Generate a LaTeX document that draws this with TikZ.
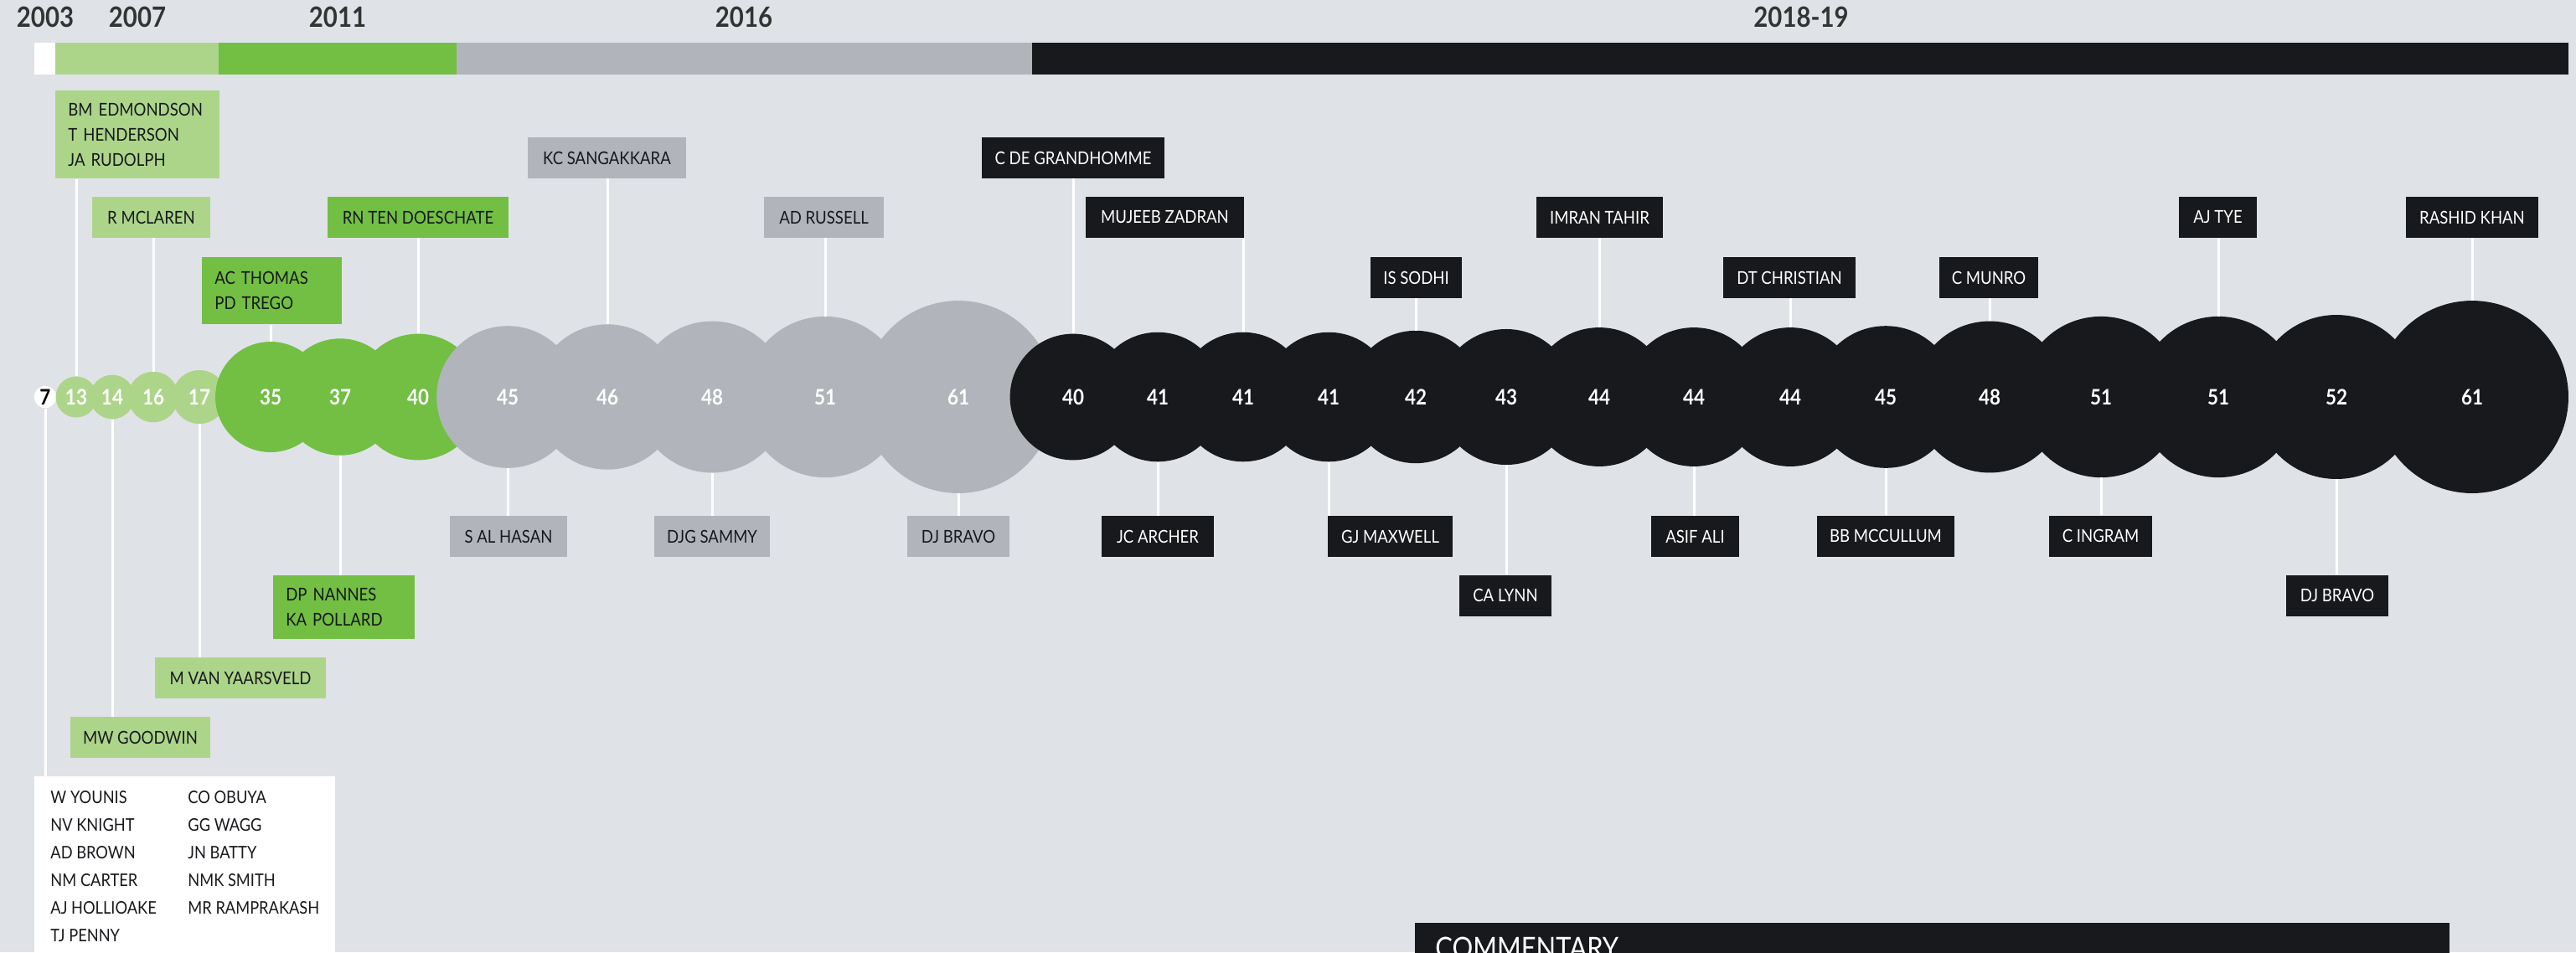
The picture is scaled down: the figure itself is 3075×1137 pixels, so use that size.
\documentclass[tikz,border=0pt]{standalone}
\usepackage{fontspec}
\setmainfont{Lato}[FakeStretch=0.88]
\definecolor{pagebg}{HTML}{DFE3E7}
\definecolor{lgreen}{HTML}{ACD58A}
\definecolor{dgreen}{HTML}{72BF44}
\definecolor{stone}{HTML}{B1B5BB}
\definecolor{ink}{HTML}{18191C}
\definecolor{yeartxt}{HTML}{333333}
\newcommand{\lblfont}{\fontsize{12}{17}\selectfont}
\newcommand{\listfont}{\fontsize{11.8}{18.8}\selectfont}

\begin{document}
\begin{tikzpicture}[x=0.02cm, y=-0.02cm,
  bubble/.style={circle, inner sep=0pt, font=\bfseries\fontsize{14.5}{16}\selectfont},
  lbl/.style={fill=#1, inner sep=0pt, minimum height=0.98cm, font=\lblfont, text=ink},
  dlbl/.style={lbl=ink, text=white},
  multi/.style={anchor=north west, inner xsep=0.3cm, inner ysep=0pt, align=left},
  conn/.style={draw=white, line width=0.06cm},
  year/.style={font=\bfseries\fontsize{19}{22}\selectfont, text=yeartxt}]
\useasboundingbox (0,0) rectangle (3075,1137);
\clip (0,0) rectangle (3075,1137);
\fill[pagebg] (0,0) rectangle (3075,1137);

% years and season bar
\node[year] (y2003) at (54,20) {2003};
\node[year] (y2007) at (164,20) {2007};
\node[year] (y2011) at (403,20) {2011};
\node[year] (y2016) at (888,20) {2016};
\node[year] (y2018) at (2150,20) {2018-19};
\fill[white] (41,51) rectangle (66,89);
\fill[lgreen] (66,51) rectangle (261,89);
\fill[dgreen] (261,51) rectangle (545,89);
\fill[stone] (545,51) rectangle (1232,89);
\fill[ink] (1232,51) rectangle (3066,89);

% bubbles, radius grows with the value
\foreach \v/\x/\c/\t [count=\i] in {7/54/white/black, 13/91/lgreen/white, 14/134/lgreen/white,
  16/183/lgreen/white, 17/238/lgreen/white, 35/323/dgreen/white, 37/406/dgreen/white,
  40/499/dgreen/white, 45/606/stone/white, 46/725/stone/white, 48/850/stone/white,
  51/985/stone/white, 61/1144/stone/white, 40/1281/ink/white, 41/1382/ink/white,
  41/1484/ink/white, 41/1586/ink/white, 42/1690/ink/white, 43/1798/ink/white,
  44/1909/ink/white, 44/2022/ink/white, 44/2137/ink/white, 45/2251/ink/white,
  48/2375/ink/white, 51/2508/ink/white, 51/2648/ink/white, 52/2789/ink/white,
  61/2951/ink/white}
  \node[bubble, fill=\c, text=\t, minimum size=\v*0.0754cm] (b\i) at (\x,474) {\v};

% labels above
\node[lbl=lgreen, multi, minimum width=3.92cm, minimum height=2.1cm, text width=3.32cm] (edmondson) at (66,108) {BM EDMONDSON\\T HENDERSON\\JA RUDOLPH};
\node[lbl=lgreen, minimum width=2.82cm] (mclaren) at (180.5,259.5) {R MCLAREN};
\node[lbl=dgreen, multi, minimum width=3.34cm, minimum height=1.6cm, text width=2.74cm] (thomas) at (241,307) {AC THOMAS\\PD TREGO};
\node[lbl=dgreen, minimum width=4.32cm] (doeschate) at (499,259.5) {RN TEN DOESCHATE};
\node[lbl=stone, minimum width=3.78cm] (sangakkara) at (724.5,188.5) {KC SANGAKKARA};
\node[lbl=stone, minimum width=2.86cm] (russell) at (983.5,259.5) {AD RUSSELL};
\node[dlbl, minimum width=4.36cm] (grandhomme) at (1281,188.5) {C DE GRANDHOMME};
\node[dlbl, minimum width=3.78cm] (zadran) at (1390.5,259.5) {MUJEEB ZADRAN};
\node[dlbl, minimum width=2.18cm] (sodhi) at (1690.5,331.5) {IS SODHI};
\node[dlbl, minimum width=3.02cm] (tahir) at (1909.5,259.5) {IMRAN TAHIR};
\node[dlbl, minimum width=3.16cm] (christian) at (2136,331.5) {DT CHRISTIAN};
\node[dlbl, minimum width=2.36cm] (munro) at (2374,331.5) {C MUNRO};
\node[dlbl, minimum width=1.86cm] (tye) at (2647.5,259.5) {AJ TYE};
\node[dlbl, minimum width=3.16cm] (rashid) at (2951,259.5) {RASHID KHAN};

% labels below
\node[fill=white, anchor=north west, inner xsep=0.32cm, inner ysep=0.18cm, minimum width=7.18cm, font=\listfont, text=ink] (others) at (41,927)
  {\begin{tabular}{@{}p{3.28cm}@{}l@{}}
   W YOUNIS & CO OBUYA\\
   NV KNIGHT & GG WAGG\\
   AD BROWN & JN BATTY\\
   NM CARTER & NMK SMITH\\
   AJ HOLLIOAKE & MR RAMPRAKASH\\
   TJ PENNY & \\
   \end{tabular}};
\node[lbl=lgreen, minimum width=3.34cm] (goodwin) at (167.5,880.5) {MW GOODWIN};
\node[lbl=lgreen, minimum width=4.08cm] (yaarsveld) at (287,809.5) {M VAN YAARSVELD};
\node[lbl=dgreen, multi, minimum width=3.38cm, minimum height=1.52cm, text width=2.78cm] (nannes) at (326,687) {DP NANNES\\KA POLLARD};
\node[lbl=stone, minimum width=2.8cm] (alhasan) at (607,640.5) {S AL HASAN};
\node[lbl=stone, minimum width=2.76cm] (sammy) at (850,640.5) {DJG SAMMY};
\node[lbl=stone, minimum width=2.44cm] (bravoa) at (1144,640.5) {DJ BRAVO};
\node[dlbl, minimum width=2.68cm] (archer) at (1382,640.5) {JC ARCHER};
\node[dlbl, minimum width=2.98cm] (maxwell) at (1659.5,640.5) {GJ MAXWELL};
\node[dlbl, minimum width=2.2cm] (lynn) at (1797,711) {CA LYNN};
\node[dlbl, minimum width=2.1cm] (asifali) at (2023.5,640.5) {ASIF ALI};
\node[dlbl, minimum width=3.28cm] (mccullum) at (2251,640) {BB MCCULLUM};
\node[dlbl, minimum width=2.46cm] (ingram) at (2507.5,640) {C INGRAM};
\node[dlbl, minimum width=2.44cm] (bravob) at (2790,711) {DJ BRAVO};

% connectors
\draw[conn] (b2.north) -- (b2 |- edmondson.south);
\draw[conn] (b4.north) -- (b4 |- mclaren.south);
\draw[conn] (b6.north) -- (b6 |- thomas.south);
\draw[conn] (b8.north) -- (b8 |- doeschate.south);
\draw[conn] (b10.north) -- (b10 |- sangakkara.south);
\draw[conn] (b12.north) -- (b12 |- russell.south);
\draw[conn] (b14.north) -- (b14 |- grandhomme.south);
\draw[conn] (b16.north) -- (b16 |- zadran.south);
\draw[conn] (b18.north) -- (b18 |- sodhi.south);
\draw[conn] (b20.north) -- (b20 |- tahir.south);
\draw[conn] (b22.north) -- (b22 |- christian.south);
\draw[conn] (b24.north) -- (b24 |- munro.south);
\draw[conn] (b26.north) -- (b26 |- tye.south);
\draw[conn] (b28.north) -- (b28 |- rashid.south);
\draw[conn] (b1.south) -- (b1 |- others.north);
\draw[conn] (b3.south) -- (b3 |- goodwin.north);
\draw[conn] (b5.south) -- (b5 |- yaarsveld.north);
\draw[conn] (b7.south) -- (b7 |- nannes.north);
\draw[conn] (b9.south) -- (b9 |- alhasan.north);
\draw[conn] (b11.south) -- (b11 |- sammy.north);
\draw[conn] (b13.south) -- (b13 |- bravoa.north);
\draw[conn] (b15.south) -- (b15 |- archer.north);
\draw[conn] (b17.south) -- (b17 |- maxwell.north);
\draw[conn] (b19.south) -- (b19 |- lynn.north);
\draw[conn] (b21.south) -- (b21 |- asifali.north);
\draw[conn] (b23.south) -- (b23 |- mccullum.north);
\draw[conn] (b25.south) -- (b25 |- ingram.north);
\draw[conn] (b27.south) -- (b27 |- bravob.north);

% commentary panel, cut by the lower edge
\node[fill=ink, anchor=north west, inner xsep=0.48cm, inner ysep=0.34cm, minimum width=24.7cm, text width=23.74cm, align=left, text=white, font=\fontsize{20}{24}\selectfont] (commentary) at (1689,1102) {COMMENTARY};
\end{tikzpicture}
\end{document}
